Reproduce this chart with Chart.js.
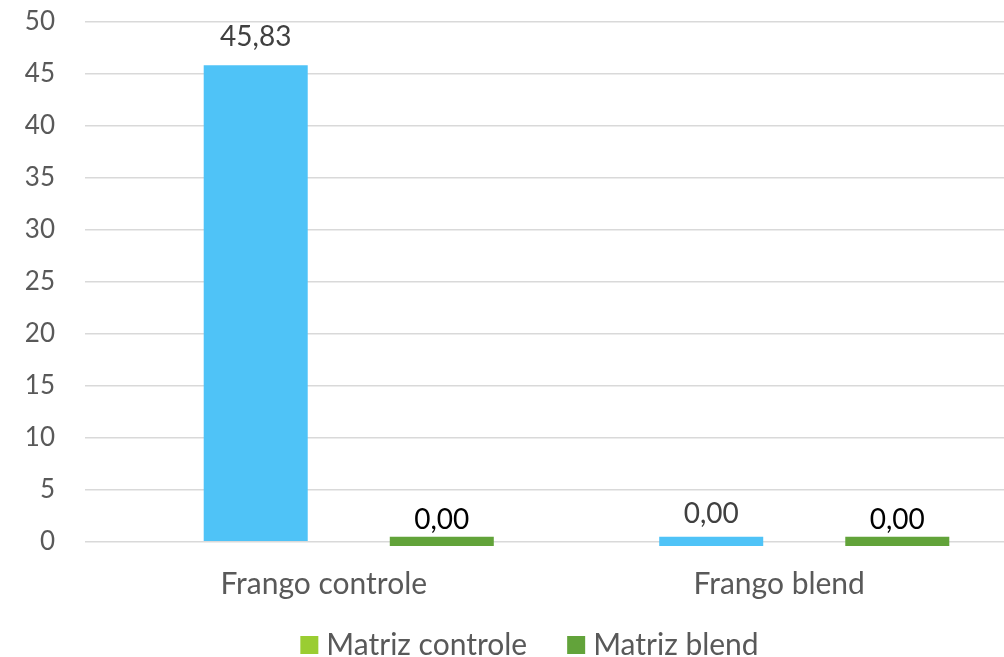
<!DOCTYPE html>
<html>
<head>
<meta charset="utf-8">
<script src="https://cdn.jsdelivr.net/npm/chart.js@4"></script>
<style>
  html, body { margin: 0; padding: 0; background: #fff; overflow: hidden; }
  .chart_box { position: relative; width: 1059px; height: 657px; }
</style>
</head>
<body>
<div class="chart_box"><canvas id="chart"></canvas></div>
<script>
"use strict"

const categories = ["Frango controle", "Frango blend"];
const seriesNames = ["Matriz controle", "Matriz blend"];
const matrizControle = [45.83, 0];
const matrizBlend = [0, 0];
const yTicks = [0, 5, 10, 15, 20, 25, 30, 35, 40, 45, 50];

const barColors = ["#4fc3f7", "#62a33a"];
const legendColors = ["#9acd32", "#62a33a"];
const labelColors = ["#404040", "#000000"];
const labelGaps = [28, 22];

Chart.defaults.font.family = "Lato";
Chart.defaults.color = "#595959";

// value above each bar, comma as decimal separator
const valueLabels = {
  id: "valueLabels",
  afterDatasetsDraw(chart) {
    const ctx = chart.ctx;
    const yScale = chart.scales.y;
    chart.data.datasets.forEach((ds, i) => {
      chart.getDatasetMeta(i).data.forEach((bar, j) => {
        const value = ds.data[j];
        ctx.save();
        ctx.font = "28px Lato";
        ctx.fillStyle = labelColors[i];
        ctx.textAlign = "center";
        ctx.textBaseline = "middle";
        ctx.fillText(value.toFixed(2).replace(".", ","), bar.x, yScale.getPixelForValue(value) - labelGaps[i]);
        ctx.restore();
      });
    });
  }
};

// legend row along the bottom edge
const bottomLegend = {
  id: "bottomLegend",
  afterDraw(chart) {
    const ctx = chart.ctx;
    const box = 18, gap = 8, spacing = 40;
    ctx.save();
    ctx.font = "30px Lato";
    ctx.textBaseline = "middle";
    const items = chart.data.datasets.map((ds, i) => ({
      text: ds.label,
      color: legendColors[i],
      w: ctx.measureText(ds.label).width,
    }));
    const total = items.reduce((s, it) => s + box + gap + it.w, 0) + spacing * (items.length - 1);
    let x = chart.width / 2 - total / 2;
    const y = chart.height - 12;
    items.forEach((it) => {
      ctx.fillStyle = it.color;
      ctx.fillRect(x, y - box / 2, box, box);
      ctx.fillStyle = "#595959";
      ctx.fillText(it.text, x + box + gap, y);
      x += box + gap + it.w + spacing;
    });
    ctx.restore();
  }
};

new Chart(document.querySelector("#chart"), {
  type: "bar",
  data: {
    labels: categories,
    datasets: [
      { label: seriesNames[0], data: matrizControle, backgroundColor: barColors[0] },
      { label: seriesNames[1], data: matrizBlend, backgroundColor: barColors[1] },
    ],
  },
  options: {
    responsive: true,
    maintainAspectRatio: false,
    animation: false,
    categoryPercentage: 0.817,
    barPercentage: 0.559,
    minBarLength: 10,
    layout: { padding: { top: 22, left: 0, right: 27, bottom: 0 } },
    scales: {
      x: {
        grid: { display: false, drawTicks: false },
        border: { display: false },
        ticks: { font: { size: 30 }, padding: 20, labelOffset: -25 },
        afterFit: (scale) => { scale.height = 111; },
      },
      y: {
        // small room below zero so the zero bars sit across the axis line
        min: -0.4,
        max: yTicks[yTicks.length - 1],
        grid: { color: "#d9d9d9", lineWidth: 1.5, tickLength: 36 },
        border: { display: false },
        ticks: { font: { size: 26 }, padding: 30 },
        afterBuildTicks: (scale) => {
          scale.ticks = yTicks.map((value) => ({ value }));
        },
        afterFit: (scale) => {
          scale.width = 121;
          // tick padding should not push the plot area down
          scale.paddingTop = 0;
          scale.paddingBottom = 0;
        },
      },
    },
    plugins: {
      tooltip: { enabled: false },
      legend: { display: false },
    },
  },
  plugins: [valueLabels, bottomLegend],
});
</script>
</body>
</html>
